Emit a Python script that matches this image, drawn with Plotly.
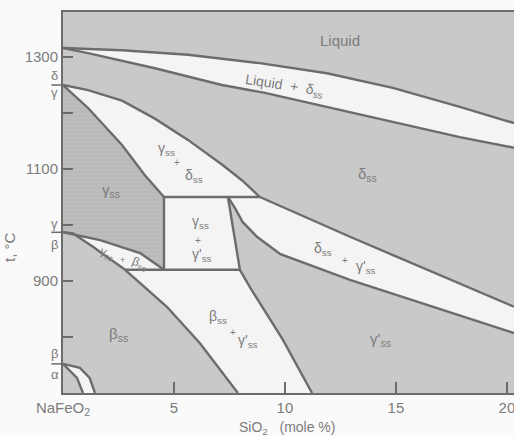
import plotly.graph_objects as go

# ---- phase boundaries (x = SiO2 mole %, t = deg C) ----
liquidus_x = [0, 2.66, 5.63, 8.87, 11.89, 14.86, 17.88, 20.32]
liquidus_t = [1316, 1312, 1304, 1289, 1271, 1245, 1211, 1182]

solidus_x = [0, 1.13, 4.14, 7.16, 9.1, 11.89, 14.86, 17.88, 20.32]
solidus_t = [1316, 1307, 1280, 1250, 1236, 1211, 1184, 1157, 1138]

# upper limit of gamma+delta (delta solvus)
dsolv_x = [0, 1.13, 2.66, 4.14, 5.63, 7.16, 8.06, 8.87]
dsolv_t = [1250, 1241, 1222, 1190, 1152, 1108, 1080, 1050]

# lower limit of gamma+delta (gamma solvus)
gsolv_x = [0, 1.13, 2.66, 3.69, 4.55]
gsolv_t = [1250, 1209, 1143, 1089, 1050]

# gamma+beta lens
lens_up_x = [0, 1.67, 3.47, 4.55]
lens_up_t = [987, 973, 950, 920]
lens_lo_x = [0, 0.45, 1.35, 2.57, 2.8]
lens_lo_t = [987, 985, 961, 926, 920]

# beta solvus
bsolv_x = [2.8, 4.68, 6.17, 7.88]
bsolv_t = [920, 854, 789, 700]

# invariant lines
upper_inv_x = [4.55, 8.87]
upper_inv_t = [1050, 1050]
lower_inv_x = [2.8, 7.97]
lower_inv_t = [920, 920]

# gamma+gamma' box sides
box_left_x = [4.55, 4.55]
box_left_t = [1050, 920]
box_right_x = [7.43, 7.97]
box_right_t = [1050, 920]

# delta+gamma' band
dg_up_x = [8.87, 12.93, 20.32]
dg_up_t = [1050, 979, 854]
dg_lo_x = [7.43, 7.75, 8.1, 8.74, 9.8, 11.13, 12.93, 20.32]
dg_lo_t = [1050, 1030, 1005, 979, 948, 928, 902, 807]

# beta+gamma' right limit
bg_x = [7.97, 8.42, 9.91, 11.22]
bg_t = [920, 889, 795, 700]

# alpha/beta lens
ab_out_x = [0, 0.76, 1.2, 1.44]
ab_out_t = [752, 745, 727, 700]
ab_in_x = [0, 0.63, 0.9]
ab_in_t = [752, 727, 700]

XMAX, TMIN, TMAX = 20.32, 700, 1380.4

GRAY = '#c9c9c9'
WHITE = '#f4f4f4'
LINE = '#6c6c6c'
TXT = '#7c7c7c'
FONT = 'Liberation Sans'

def rev(a):
    return list(a)[::-1]

fig = go.Figure()

def region(xs, ts, color, pattern=None):
    kw = dict(x=xs, y=ts, fill='toself', fillcolor=color, mode='lines',
              line=dict(width=0, color=color), hoverinfo='skip', showlegend=False)
    if pattern:
        kw['fillpattern'] = pattern
    fig.add_trace(go.Scatter(**kw))

# gamma_ss region (darker, striped)
gx = list(gsolv_x) + [4.55] + rev(lens_up_x)
gt = list(gsolv_t) + [920] + rev(lens_up_t)
region(gx, gt, '#bababa', dict(shape='-', bgcolor='#b9b9b9', fgcolor='#c6c6c6',
                               size=4, solidity=0.35))

# white two-phase regions
region(liquidus_x + rev(solidus_x), liquidus_t + rev(solidus_t), WHITE)
region(dsolv_x + rev(upper_inv_x)[1:] + rev(gsolv_x),
       dsolv_t + rev(upper_inv_t)[1:] + rev(gsolv_t), WHITE)
region([box_left_x[0], box_right_x[0], box_right_x[1], box_left_x[1]],
       [box_left_t[0], box_right_t[0], box_right_t[1], box_left_t[1]], WHITE)
region(dg_up_x + rev(dg_lo_x), dg_up_t + rev(dg_lo_t), WHITE)
region(lower_inv_x + bg_x[1:] + rev(bsolv_x)[:-1],
       lower_inv_t + bg_t[1:] + rev(bsolv_t)[:-1], WHITE)
region(lens_up_x + rev(lens_lo_x), lens_up_t + rev(lens_lo_t), WHITE)
region(ab_out_x + rev(ab_in_x), ab_out_t + rev(ab_in_t), WHITE)

# boundary lines
for xs, ts in [(liquidus_x, liquidus_t), (solidus_x, solidus_t),
               (dsolv_x, dsolv_t), (gsolv_x, gsolv_t),
               (lens_up_x, lens_up_t), (lens_lo_x, lens_lo_t),
               (bsolv_x, bsolv_t), (upper_inv_x, upper_inv_t),
               (lower_inv_x, lower_inv_t), (box_left_x, box_left_t),
               (box_right_x, box_right_t), (dg_up_x, dg_up_t),
               (dg_lo_x, dg_lo_t), (bg_x, bg_t),
               (ab_out_x, ab_out_t), (ab_in_x, ab_in_t)]:
    fig.add_trace(go.Scatter(x=xs, y=ts, mode='lines', line=dict(color=LINE, width=2.4),
                             hoverinfo='skip', showlegend=False))

# ---- labels ----
region_labels = [
    ('Liquid', 12.5, 1330, 0, 15),
    ('Liquid  +  δ<sub>ss</sub>', 10.0, 1249, 9, 14),
    ('γ<sub>ss</sub>', 4.68, 1136, 0, 14),
    ('+', 5.14, 1111, 0, 10),
    ('δ<sub>ss</sub>', 5.9, 1088, 0, 14),
    ('δ<sub>ss</sub>', 13.74, 1091, 0, 15),
    ('γ<sub>ss</sub>', 2.16, 1062, 0, 15),
    ('γ<sub>ss</sub>', 6.2, 1006, 0, 14),
    ('+', 6.08, 973, 0, 10),
    ("γ'<sub>ss</sub>", 6.26, 947, 0, 14),
    ('γ<sub>ss</sub>', 2.0, 949, 22, 12),
    ('+', 2.66, 938, 0, 9),
    ('β<sub>ss</sub>', 3.45, 931, 22, 12),
    ('δ<sub>ss</sub>', 11.7, 958, 0, 14),
    ('+', 12.7, 937, 0, 10),
    ("γ'<sub>ss</sub>", 13.65, 925, 0, 14),
    ('β<sub>ss</sub>', 6.98, 836, 0, 14),
    ('+', 7.66, 808, 0, 10),
    ("γ'<sub>ss</sub>", 8.33, 793, 0, 14),
    ('β<sub>ss</sub>', 2.52, 804, 0, 15),
    ("γ'<sub>ss</sub>", 14.32, 795, 0, 15),
]
for text, x, t, ang, size in region_labels:
    fig.add_annotation(x=x, y=t, text=text, showarrow=False, textangle=ang,
                       font=dict(family=FONT, size=size, color=TXT))

# transition labels on the temperature axis
side_labels = [('δ', 1267), ('γ', 1237), ('γ', 1002), ('β', 966), ('β', 770), ('α', 733)]
for text, t in side_labels:
    fig.add_annotation(x=-0.03, xref='paper', y=t, yref='y', text=text, showarrow=False,
                       font=dict(family=FONT, size=13, color=TXT))
transition_t = [1250, 987, 752]
for t in transition_t:
    fig.add_shape(type='line', xref='paper', yref='y', x0=-0.026, x1=0.0, y0=t, y1=t,
                  line=dict(color=LINE, width=1.5))

# axis titles
fig.add_annotation(x=0.497, y=-0.093, xref='paper', yref='paper', yanchor='middle',
                   text='SiO<sub>2</sub>   (mole %)', showarrow=False,
                   font=dict(family=FONT, size=14, color=TXT))
fig.add_annotation(x=-0.12, y=0.383, xref='paper', yref='paper', text='t, °C',
                   textangle=-90, showarrow=False, xanchor='center', yanchor='middle',
                   font=dict(family=FONT, size=15, color=TXT))

x_tickvals = [0, 5, 10, 15, 20]
x_ticktext = ['NaFeO<sub>2</sub>', '5', '10', '15', '20']
y_tickvals = [800, 900, 1000, 1100, 1200, 1300]
y_ticktext = ['', '900', '', '1100', '', '1300']

fig.update_layout(
    width=514, height=436,
    margin=dict(l=63, r=0, t=12, b=43),
    paper_bgcolor='#fafafa', plot_bgcolor=GRAY,
    showlegend=False,
)
fig.update_xaxes(range=[0, XMAX], tickvals=x_tickvals, ticktext=x_ticktext,
                 ticks='inside', ticklen=11, tickwidth=1.5, tickcolor=LINE,
                 showline=True, linecolor=LINE, linewidth=2, mirror=True,
                 showgrid=False, zeroline=False, ticklabeloverflow='allow',
                 tickfont=dict(family=FONT, size=15, color=TXT))
fig.update_yaxes(range=[TMIN, TMAX], tickvals=y_tickvals, ticktext=y_ticktext,
                 ticks='inside', ticklen=10, tickwidth=1.5, tickcolor=LINE,
                 showline=True, linecolor=LINE, linewidth=2,
                 showgrid=False, zeroline=False,
                 tickfont=dict(family=FONT, size=15, color=TXT))

fig.write_html('out.html')
